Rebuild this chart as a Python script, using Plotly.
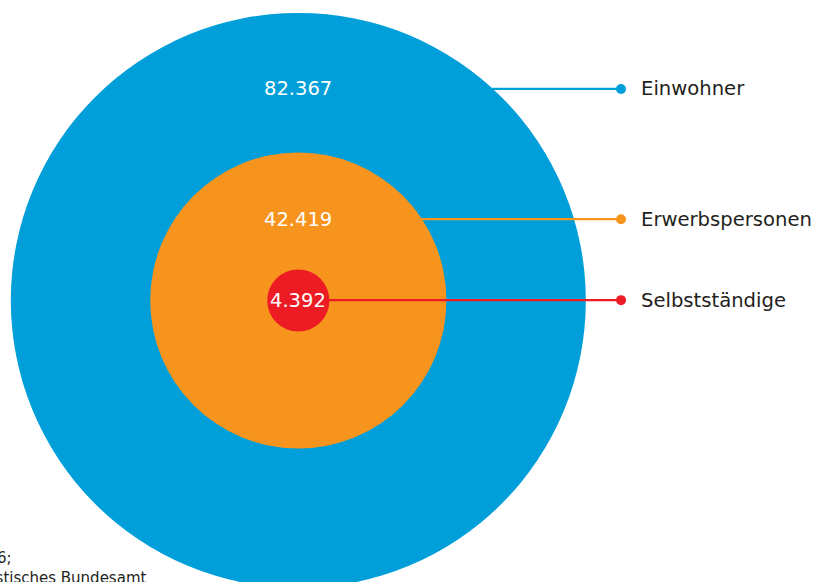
import plotly.graph_objects as go

# ---- data ----
categories = ["Einwohner", "Erwerbspersonen", "Selbstständige"]
values = [82.367, 42.419, 4.392]
value_labels = ["82.367", "42.419", "4.392"]
source_lines = ["Stand: 2016;", "Quelle: Statistisches Bundesamt"]

# ---- style / layout constants ----
colors = ["#009FDA", "#F7941D", "#ED1C24"]
MIN_R = 8.9                    # minimum drawn radius so the small circle can hold its label
label_y = [60.6, 23.3, 0.1]    # vertical position of each connector / label (data units)
DOT_X = 92.45
TEXT_X = 97.6
W, H = 813, 582
X_RANGE = [-85.46, 147.45]
Y_RANGE = [-80.65, 86.09]
FONT = "DejaVu Sans"

fig = go.Figure()

shapes = []
for cat, v, c, ly in zip(categories, values, colors, label_y):
    r = max(v, MIN_R)
    # connector line (drawn before its circle so it starts at the circle edge)
    shapes.append(dict(type="line", xref="x", yref="y", x0=0, x1=DOT_X, y0=ly, y1=ly,
                       line=dict(color=c, width=2.2), layer="above"))
    shapes.append(dict(type="circle", xref="x", yref="y", x0=-r, x1=r, y0=-r, y1=r,
                       fillcolor=c, line=dict(width=0), layer="above"))

fig.add_trace(go.Scatter(
    x=[DOT_X] * len(categories), y=label_y, mode="markers",
    marker=dict(color=colors, size=10, line=dict(width=0)),
    hoverinfo="skip", showlegend=False))

annotations = []
for cat, lbl, ly in zip(categories, value_labels, label_y):
    annotations.append(dict(x=0, y=ly, xref="x", yref="y", text=lbl, showarrow=False,
                            xanchor="center", yanchor="middle",
                            font=dict(family=FONT, size=19.5, color="white")))
    annotations.append(dict(x=TEXT_X, y=ly, xref="x", yref="y", text=cat, showarrow=False,
                            xanchor="left", yanchor="middle",
                            font=dict(family=FONT, size=19.6, color="#231F20")))

annotations.append(dict(x=14 / W, y=1 - 558 / H, xref="paper", yref="paper",
                        text=source_lines[0], showarrow=False, xanchor="right", yanchor="middle",
                        font=dict(family=FONT, size=15, color="#231F20")))
annotations.append(dict(x=148 / W, y=1 - 578 / H, xref="paper", yref="paper",
                        text=source_lines[1], showarrow=False, xanchor="right", yanchor="middle",
                        font=dict(family=FONT, size=15, color="#231F20")))

fig.update_layout(
    width=W, height=H,
    margin=dict(l=0, r=0, t=0, b=0),
    paper_bgcolor="white", plot_bgcolor="white",
    shapes=shapes, annotations=annotations,
    xaxis=dict(range=X_RANGE, visible=False, fixedrange=True),
    yaxis=dict(range=Y_RANGE, visible=False, fixedrange=True),
    showlegend=False,
)

fig.write_html("out.html", config={"displayModeBar": False},
               post_script="document.body.style.margin='0px';document.body.style.overflow='hidden';")
